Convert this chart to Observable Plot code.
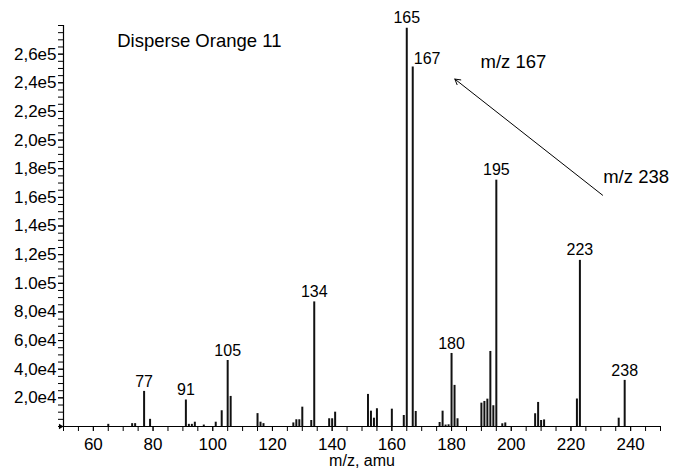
<!DOCTYPE html>
<html>
<head>
<meta charset="utf-8">
<script src="https://cdn.jsdelivr.net/npm/d3@7"></script>
<script src="https://cdn.jsdelivr.net/npm/@observablehq/plot@0.6"></script>
<style>
  body { margin: 0; background: #fff; }
  #chart svg { display: block; }
</style>
</head>
<body>
<div id="chart"></div>
<script>
// Mass spectrum of Disperse Orange 11: m/z of each peak and its intensity (counts)
const mz = [65, 73, 74, 77, 79, 91, 92, 93, 94, 97, 101, 103, 105, 106, 115, 116, 117,
  127, 128, 129, 130, 133, 134, 139, 140, 141, 152, 153, 154, 155, 160, 164, 165, 167, 168,
  176, 177, 178, 179, 180, 181, 182, 190, 191, 192, 193, 194, 195, 197, 198,
  208, 209, 210, 211, 222, 223, 236, 238];
const intensity = [1500, 2000, 2000, 24500, 5000, 18500, 1500, 1500, 3000, 1000, 3000, 11000, 46100, 21000, 9000, 3000, 2000,
  2500, 4700, 4700, 13500, 4200, 87000, 5400, 5400, 10000, 22400, 10700, 5800, 12400, 12100, 7700, 278000, 251000, 10500,
  2800, 10700, 1000, 1200, 51000, 28700, 5400, 16300, 17500, 19100, 52400, 14500, 172000, 1900, 2500,
  8900, 16800, 4200, 4600, 19200, 116000, 5800, 32200];

// Peaks that carry their m/z as a label
const labeledMz = [77, 91, 105, 134, 165, 167, 180, 195, 223, 238];

// Axis ticks
const xTickValues = [60, 80, 100, 120, 140, 160, 180, 200, 220, 240];
const yTickValues = [20000, 40000, 60000, 80000, 100000, 120000, 140000, 160000, 180000, 200000, 220000, 240000, 260000];
const yTickLabels = ["2,0e4", "4,0e4", "6,0e4", "8,0e4", "1.0e5", "1,2e5", "1,4e5", "1,6e5", "1,8e5", "2,0e5", "2,2e5", "2,4e5", "2,6e5"];

// Annotation texts and the fragmentation arrow (m/z 238 -> m/z 167)
const noteText = ["Disperse Orange 11", "m/z 167", "m/z 238"];
const noteMz = [68, 189.7, 230.8];
const noteIntensity = [269300, 254700, 174500];
const arrowFrom = {mz: 230.6, intensity: 161500};
const arrowTo = {mz: 181.1, intensity: 242600};

const peaks = mz.map((m, i) => ({mz: m, intensity: intensity[i]}));
const labeled = peaks.filter(d => labeledMz.includes(d.mz));
const notes = noteText.map((t, i) => ({text: t, mz: noteMz[i], intensity: noteIntensity[i]}));
const minorX = d3.range(50, 251, 5);
const minorY = d3.range(0, 280001, 5000);

const font = "'Liberation Sans', Arial, Helvetica, sans-serif";

const chart = Plot.plot({
  width: 673,
  height: 475,
  marginLeft: 63,
  marginRight: 13,
  marginTop: 25,
  marginBottom: 49,
  style: {fontFamily: font, fontSize: "17px", color: "#000", background: "#fff"},
  x: {domain: [50, 250]},
  y: {domain: [0, 280000]},
  marks: [
    // minor ticks
    Plot.axisX({ticks: minorX, tickSize: 5, tickFormat: () => "", stroke: "#000"}),
    Plot.axisY({ticks: minorY, tickSize: 5, tickFormat: () => "", stroke: "#000"}),
    // labelled ticks
    Plot.axisX({ticks: xTickValues, tickSize: 5, tickPadding: 6, fontSize: 17, tickFormat: d => String(d), stroke: "#000"}),
    Plot.axisY({ticks: yTickValues, tickSize: 5, tickPadding: 2, fontSize: 17,
      tickFormat: d => yTickLabels[yTickValues.indexOf(d)], stroke: "#000"}),
    // axis lines
    Plot.ruleX([50], {stroke: "#000", strokeWidth: 1.2}),
    Plot.ruleY([0], {stroke: "#000", strokeWidth: 1.2}),
    Plot.dot([{mz: 50, intensity: 0}], {x: "mz", y: "intensity", symbol: "triangle2", rotate: 90, r: 2.6, fill: "#000", stroke: "none", dx: -3}),
    // peaks
    Plot.ruleX(peaks, {x: "mz", y1: 0, y2: "intensity", stroke: "#111", strokeWidth: 2}),
    // peak labels
    Plot.text(labeled.filter(d => d.mz !== 167), {x: "mz", y: "intensity", text: d => String(d.mz),
      dy: -10, fontSize: 16, fill: "#000"}),
    Plot.text(labeled.filter(d => d.mz === 167), {x: "mz", y: "intensity", text: d => String(d.mz),
      textAnchor: "start", dx: 1, dy: -8.5, fontSize: 16, fill: "#000"}),
    // annotations
    Plot.text(notes, {x: "mz", y: "intensity", text: "text", textAnchor: "start", fontSize: 18.5, fill: "#000"}),
    Plot.arrow([{x1: arrowFrom.mz, y1: arrowFrom.intensity, x2: arrowTo.mz, y2: arrowTo.intensity}],
      {x1: "x1", y1: "y1", x2: "x2", y2: "y2", stroke: "#000", strokeWidth: 1, headLength: 9}),
    // x axis title
    Plot.text(["m/z, amu"], {frameAnchor: "bottom", dy: 39, fontSize: 16, fill: "#000"})
  ]
});

document.getElementById("chart").appendChild(chart);
</script>
</body>
</html>
